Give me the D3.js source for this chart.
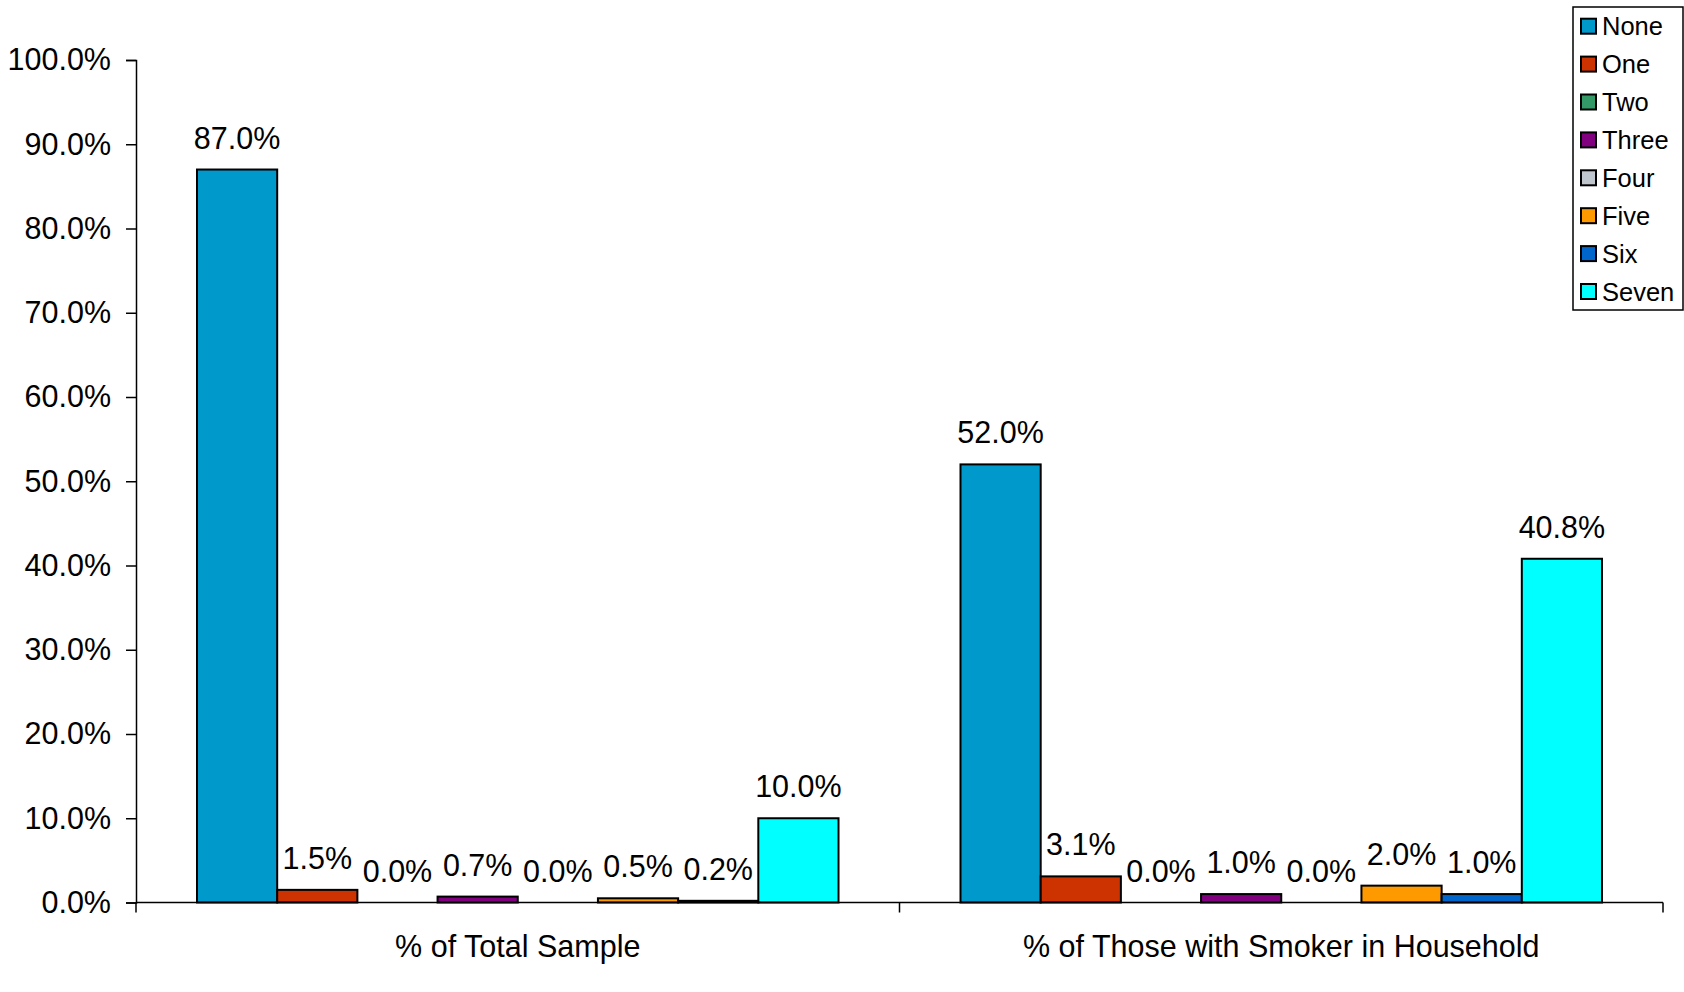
<!DOCTYPE html>
<html><head><meta charset="utf-8">
<script src="https://cdn.jsdelivr.net/npm/d3@7"></script>
<style>
html,body{margin:0;padding:0;background:#fff;}
svg{display:block;font-family:"Liberation Sans",Arial,sans-serif;}
</style></head>
<body><svg id="c" width="1684" height="992"></svg>
<script>
const categories = ["% of Total Sample", "% of Those with Smoker in Household"];
const seriesNames = ["None","One","Two","Three","Four","Five","Six","Seven"];
const seriesColors = ["#0099CC","#CC3300","#339966","#800080","#BFC6CE","#FF9900","#0066CC","#00FFFF"];
const totalSample = [87.0, 1.5, 0.0, 0.7, 0.0, 0.5, 0.2, 10.0];
const smokerHousehold = [52.0, 3.1, 0.0, 1.0, 0.0, 2.0, 1.0, 40.8];
const yTicks = [0,10,20,30,40,50,60,70,80,90,100];

(function(){
const groups = [totalSample, smokerHousehold];
const svg = d3.select("#c");
const pLeft = 136, pRight = 1663, pTop = 60, pBottom = 902.5;

const y = d3.scaleLinear().domain([0,100]).range([pBottom, pTop]);
const x0 = d3.scaleBand().domain(categories).range([pLeft, pRight]).padding(0);
const bw0 = x0.bandwidth();
const x1 = d3.scaleBand().domain(seriesNames).range([61, bw0 - 61]).padding(0);

// Y axis
const yAxis = d3.axisLeft(y).tickValues(yTicks).tickSize(10).tickPadding(15)
  .tickFormat(d => d3.format(".1f")(d) + "%");
const ya = svg.append("g").attr("transform", `translate(${pLeft},0)`).call(yAxis);
ya.select(".domain").attr("stroke","#000").attr("stroke-width",1.5);
ya.selectAll(".tick line").attr("stroke","#000").attr("stroke-width",1.5);
ya.selectAll(".tick text").attr("font-size","30.5px").attr("fill","#000")
  .attr("font-family","'Liberation Sans',Arial,sans-serif");

// bars
groups.forEach((vals, gi) => {
  const g = svg.append("g").attr("transform", `translate(${x0(categories[gi])},0)`);
  g.selectAll("rect").data(vals).enter().append("rect")
    .attr("x", (d,i) => x1(seriesNames[i]))
    .attr("y", d => y(d))
    .attr("width", x1.bandwidth())
    .attr("height", d => pBottom - y(d))
    .attr("fill", (d,i) => seriesColors[i])
    .attr("stroke", "#000").attr("stroke-width", 2);
  g.selectAll("text.lbl").data(vals).enter().append("text")
    .attr("class","lbl")
    .attr("x", (d,i) => x1(seriesNames[i]) + x1.bandwidth()/2)
    .attr("y", d => y(d) - 21)
    .attr("text-anchor","middle")
    .attr("font-size","30.5px").attr("fill","#000")
    .text(d => d3.format(".1f")(d) + "%");
});

// X axis
const xa = svg.append("g").attr("transform", `translate(0,${pBottom})`);
xa.append("line").attr("x1", pLeft).attr("x2", pRight).attr("y1",0).attr("y2",0)
  .attr("stroke","#000").attr("stroke-width",1.5);
const bounds = [pLeft, pLeft + bw0, pRight];
xa.selectAll("line.tk").data(bounds).enter().append("line").attr("class","tk")
  .attr("x1", d=>d).attr("x2", d=>d).attr("y1",0).attr("y2",10)
  .attr("stroke","#000").attr("stroke-width",1.5);
xa.selectAll("text").data(categories).enter().append("text")
  .attr("x", d => x0(d) + bw0/2).attr("y", 54)
  .attr("text-anchor","middle").attr("font-size","30.5px").attr("fill","#000")
  .text(d => d);

// Legend
const lg = svg.append("g").attr("transform","translate(1573,7)");
lg.append("rect").attr("x",0).attr("y",0).attr("width",110).attr("height",303)
  .attr("fill","#fff").attr("stroke","#000").attr("stroke-width",1.5);
const items = lg.selectAll("g.it").data(seriesNames).enter().append("g").attr("class","it")
  .attr("transform",(d,i)=>`translate(0,${19.2 + i*37.9})`);
items.append("rect").attr("x",8).attr("y",-7.5).attr("width",15).attr("height",15)
  .attr("fill",(d,i)=>seriesColors[i]).attr("stroke","#000").attr("stroke-width",2);
items.append("text").attr("x",29).attr("y",9).attr("font-size","25.5px").attr("fill","#000")
  .text(d=>d);
})();
</script>
</body></html>
